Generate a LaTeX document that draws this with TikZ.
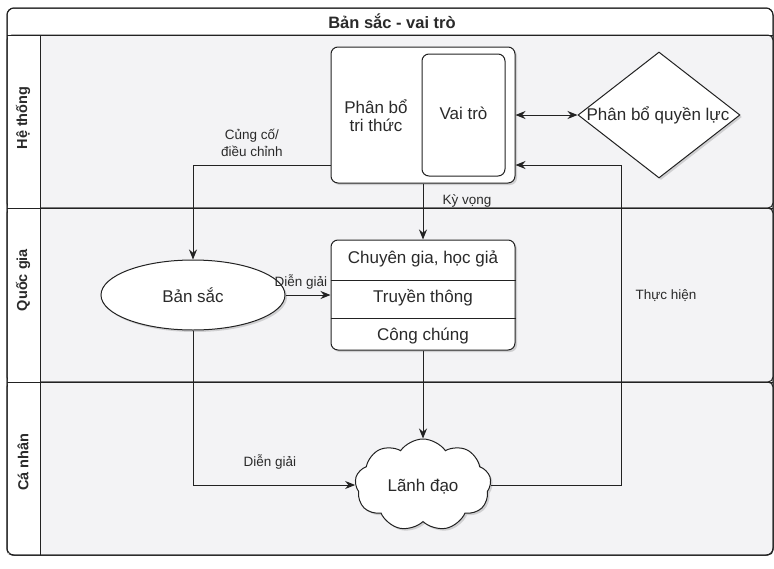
\documentclass[tikz,border=0pt]{standalone}
\usepackage{fontspec}
\setmainfont{Liberation Sans}
\usetikzlibrary{shapes.geometric,shapes.symbols,arrows.meta,shadows}
\definecolor{lanebg}{HTML}{F3F3F5}
\definecolor{ink}{HTML}{222222}
\definecolor{txt}{HTML}{2A2A2A}
\begin{document}
\begin{tikzpicture}[x=1pt,y=-1pt,
  line width=1pt, draw=ink,
  shad/.style={drop shadow={opacity=0.25,shadow xshift=2pt,shadow yshift=-2pt,fill=black!60}},
  box/.style={draw=ink,fill=white,rounded corners=7pt,shad},
  lane/.style={draw=ink,fill=lanebg,rounded corners=5pt},
  lanelab/.style={font=\fontsize{14.5}{17}\selectfont\bfseries,text=txt,rotate=90},
  ntext/.style={font=\fontsize{17}{20}\selectfont,text=txt,align=center},
  elab/.style={font=\fontsize{13.5}{17}\selectfont,text=txt,align=center},
  arr/.style={draw=ink,-{Stealth[length=10pt,width=8pt]}},
  darr/.style={draw=ink,{Stealth[length=10pt,width=8pt]}-{Stealth[length=10pt,width=8pt]}}
]
\useasboundingbox (0,0) rectangle (774,568);
% pool
\draw[draw=ink,fill=white,rounded corners=7pt] (7,8) rectangle (773,555);
\node[font=\fontsize{16.5}{20}\selectfont\bfseries,text=txt] (title) at (392,21) {Bản sắc - vai trò};
% lanes
\draw[lane] (7,35) rectangle (773,208);
\draw[lane] (7,208) rectangle (773,382);
\draw[lane] (7,382) rectangle (773,555);
\fill[white] (8,36) rectangle (40,554);
\draw[ink] (7,35) -- (773,35);
\draw[ink] (40,35) -- (40,555);
\draw[ink] (7,208) -- (773,208);
\draw[ink] (7,382) -- (773,382);
\draw[draw=ink,rounded corners=7pt] (7,8) rectangle (773,555);
\node[lanelab] (l1) at (23,118) {Hệ thống};
\node[lanelab] (l2) at (23,280) {Quốc gia};
\node[lanelab] (l3) at (23,462) {Cá nhân};
% top box
\node[box,minimum width=184pt,minimum height=136pt] (pbt) at (423,115) {};
\node[draw=ink,fill=white,rounded corners=7pt,minimum width=83pt,minimum height=122pt] (vt) at (463.5,115) {};
\node[ntext] (vtt) at (463.5,113) {Vai trò};
\node[ntext] (pbtt) at (376,116) {Phân bổ\\[-2pt]tri thức};
% diamond
\node[diamond,draw=ink,fill=white,shad,minimum width=162pt,minimum height=126pt,inner sep=0pt] (pq) at (659,115) {};
\node[ntext] (pqt) at (658,115) {Phân bổ quyền lực};
% ellipse
\node[ellipse,draw=ink,fill=white,shad,minimum width=184pt,minimum height=70pt] (bs) at (193,295) {};
\node[ntext] (bst) at (193,295) {Bản sắc};
% list
\node[box,minimum width=184pt,minimum height=110pt] (ds) at (423,295) {};
\draw[ink] (ds.west |- 0,280) -- (ds.east |- 0,280);
\draw[ink] (ds.west |- 0,318) -- (ds.east |- 0,318);
\node[ntext] (r1) at (423,259) {Chuyên gia, học giả};
\node[ntext] (r2) at (423,298) {Truyền thông};
\node[ntext] (r3) at (423,336) {Công chúng};
% cloud
\node[cloud,draw=ink,fill=white,shad,cloud puffs=9,cloud puff arc=110,aspect=1.5,minimum width=136pt,minimum height=92pt,inner sep=0pt] (ld) at (423,485) {};
\node[ntext] (ldt) at (423,487) {Lãnh đạo};
% connectors
\coordinate (th) at (621,165);
\draw[darr] (pbt.east) -- (pq.west);
\draw[arr] ([yshift=-50pt]pbt.west) -| (bs.north);
\draw[arr] (pbt.south) -- (ds.north);
\draw[arr] (bs.east) -- (ds.west);
\draw[arr] (ds.south) -- (ld.north);
\draw[arr] (bs.south) |- (ld.west);
\draw[arr] (ld.east) -| (th) -- ([yshift=-50pt]pbt.east);
% edge labels
\node[elab] (e1) at (252,143) {Củng cố/\\điều chỉnh};
\node[elab] (e2) at (467,201) {Kỳ vọng};
\node[elab] (e3) at (301,282) {Diễn giải};
\node[elab] (e4) at (270,462) {Diễn giải};
\node[elab] (e5) at (666,296) {Thực hiện};
\end{tikzpicture}
\end{document}
